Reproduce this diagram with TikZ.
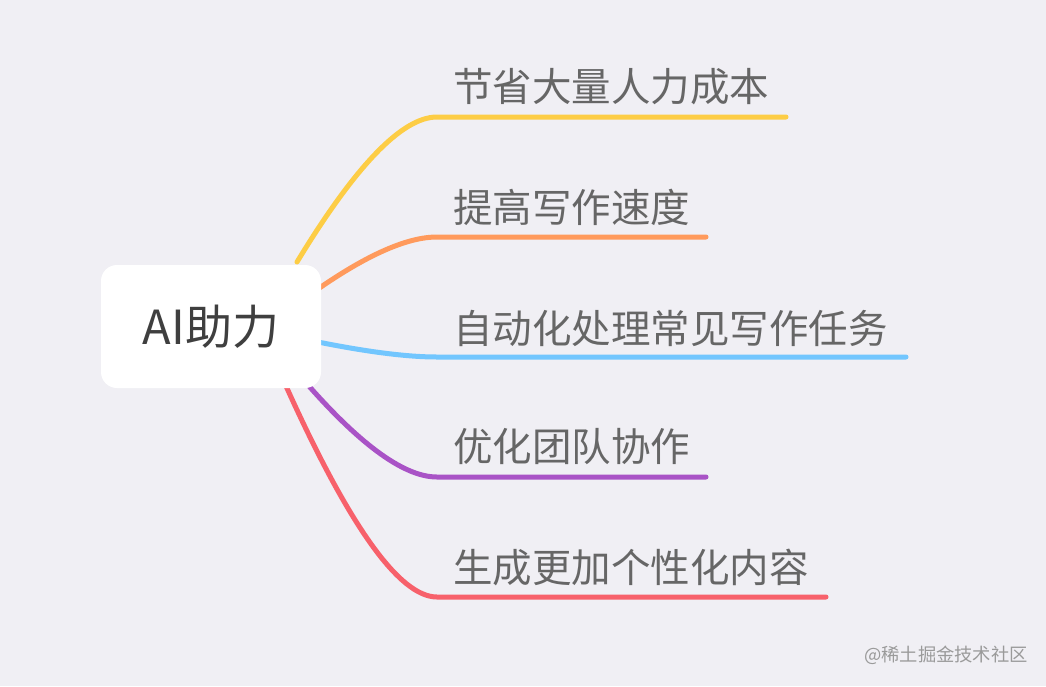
\documentclass[tikz,border=0pt]{standalone}
\usepackage{fontspec}
\setmainfont{Noto Sans CJK SC}
\usetikzlibrary{calc}
\definecolor{bgc}{HTML}{F0EFF4}
\definecolor{cyel}{HTML}{FDCD45}
\definecolor{cora}{HTML}{FF9A5C}
\definecolor{cblu}{HTML}{72C6FE}
\definecolor{cpur}{HTML}{A953C6}
\definecolor{cred}{HTML}{F7616B}
\definecolor{roottxt}{HTML}{3F3F3F}
\definecolor{lbltxt}{HTML}{666666}
\definecolor{wmtxt}{HTML}{9A9A9A}
\tikzset{
  branch/.style={line width=5pt, line cap=round},
  rootbox/.style={fill=white, rounded corners=16pt, inner sep=0pt, minimum width=220pt, minimum height=123pt, text=roottxt, font=\fontsize{47}{52}\selectfont},
  lbl/.style={anchor=west, inner sep=0pt, text=lbltxt, font=\fontsize{39.5}{44}\selectfont},
  wm/.style={anchor=east, inner sep=0pt, text=wmtxt, font=\fontsize{18.3}{21}\selectfont}
}
\begin{document}
\begin{tikzpicture}[x=1pt,y=-1pt]
\fill[bgc] (0,0) rectangle (1046,686);
\useasboundingbox (0,0) rectangle (1046,686);
% coordinates
\coordinate (s1) at (297,262); \coordinate (q1) at (385,117); \coordinate (e1) at (437,117); \coordinate (f1) at (786,117);
\coordinate (s2) at (318,289); \coordinate (q2) at (393,237); \coordinate (e2) at (437,237); \coordinate (f2) at (706,237);
\coordinate (s3) at (318,342); \coordinate (q3) at (393,357); \coordinate (e3) at (437,357); \coordinate (f3) at (906,357);
\coordinate (s4) at (308,385); \coordinate (q4) at (389,477); \coordinate (e4) at (437,477); \coordinate (f4) at (706,477);
\coordinate (s5) at (286,386); \coordinate (q5) at (381,597); \coordinate (e5) at (437,597); \coordinate (f5) at (826,597);
\draw[branch, cyel] (s1) .. controls ($(s1)!2/3!(q1)$) and ($(e1)!2/3!(q1)$) .. (e1) -- (f1);
\draw[branch, cora] (s2) .. controls ($(s2)!2/3!(q2)$) and ($(e2)!2/3!(q2)$) .. (e2) -- (f2);
\draw[branch, cblu] (s3) .. controls ($(s3)!2/3!(q3)$) and ($(e3)!2/3!(q3)$) .. (e3) -- (f3);
\draw[branch, cpur] (s4) .. controls ($(s4)!2/3!(q4)$) and ($(e4)!2/3!(q4)$) .. (e4) -- (f4);
\draw[branch, cred] (s5) .. controls ($(s5)!2/3!(q5)$) and ($(e5)!2/3!(q5)$) .. (e5) -- (f5);
\node[rootbox] (root) at (211,326.5) {AI助力};
\node[lbl] (l1) at (453,86.5) {节省大量人力成本};
\node[lbl] (l2) at (453,207) {提高写作速度};
\node[lbl] (l3) at (453,328) {自动化处理常见写作任务};
\node[lbl] (l4) at (453,446.5) {优化团队协作};
\node[lbl] (l5) at (453,567.5) {生成更加个性化内容};
\node[wm] (wm) at (1028,655) {@稀土掘金技术社区};
\end{tikzpicture}
\end{document}
